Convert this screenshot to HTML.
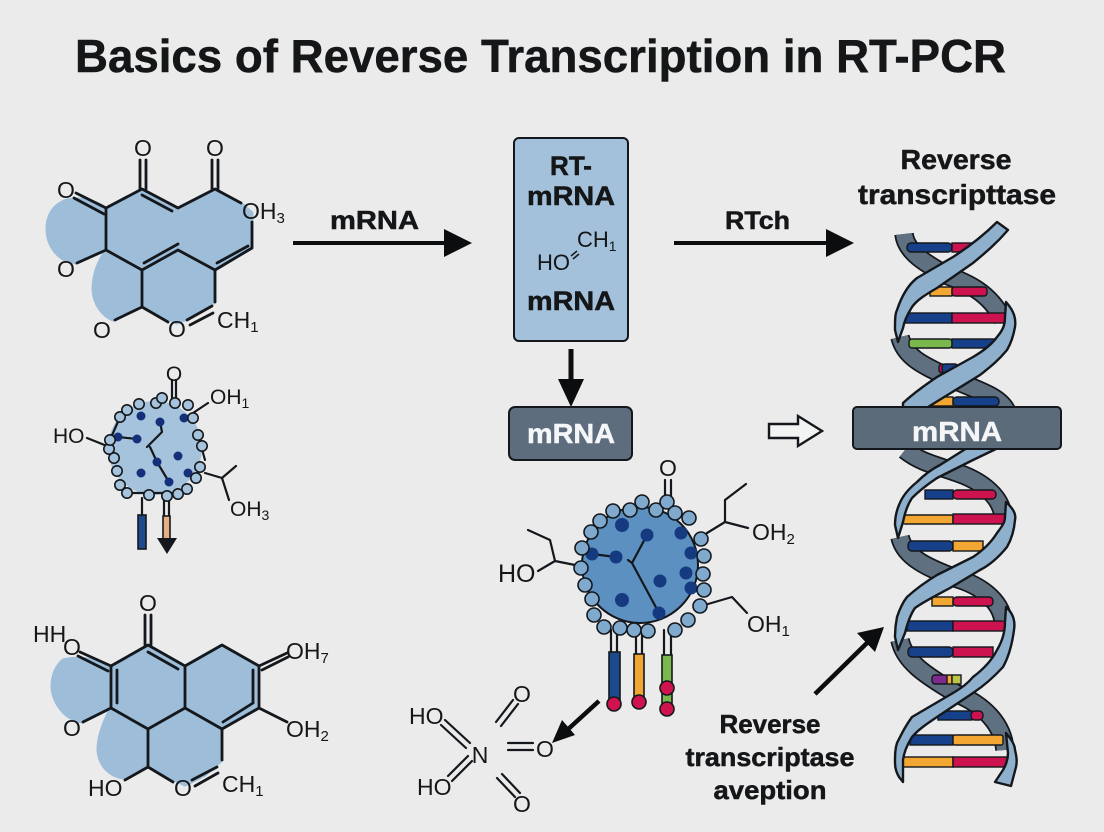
<!DOCTYPE html>
<html><head><meta charset="utf-8"><style>
html,body{margin:0;padding:0;background:#ebebec}
svg{display:block}
text{font-family:"Liberation Sans",sans-serif;fill:#141618}
.b{font-weight:bold;stroke:#141618;stroke-width:.5}
.l{stroke:#14181c;stroke-width:2.8;fill:none;stroke-linecap:round;stroke-linejoin:round}
.t{stroke:#14181c;stroke-width:2.2;fill:none;stroke-linecap:round;stroke-linejoin:round}
.m{font-size:23px}.s{font-size:21px}
.c{text-anchor:middle}
.d{stroke:#14181c;stroke-width:1.6}
.r{stroke:#14181c;stroke-width:1.4}
.ol{fill:none;stroke:#14181c;stroke-width:19.5}
.dk{fill:none;stroke:#5f7080;stroke-width:16}
.lt{fill:#8fb0cc;stroke:#14181c;stroke-width:2.4;stroke-linejoin:round}
</style></head><body>
<svg width="1104" height="832" viewBox="0 0 1104 832" xmlns="http://www.w3.org/2000/svg">
<rect width="1104" height="832" fill="#ebebec"/>
<text class="b" x="75" y="72" font-size="46" textLength="931" lengthAdjust="spacingAndGlyphs">Basics of Reverse Transcription in RT-PCR</text>

<!-- molecule 1 -->
<g fill="#9dbdd8" stroke="#9dbdd8" stroke-width="3" stroke-linejoin="round">
<path d="M106,208L142,189L178,208L215,189L243,205L252,213L252,248L215,270L215,302L190,318L177,323L142,307L142,270L106,250Z"/>
<path d="M106,208C90,198 80,198 67,200C52,205 47,217 47,229C47,245 58,262 77,263L106,250Z"/>
<path d="M105,252C96,265 93,278 93,290C94,305 103,316 113,320L142,307L142,270Z"/>
</g>
<g class="l">
<path d="M106,208L142,189L178,208L215,189L241,203M252,222V248L215,270L178,250L142,270L106,250V208"/>
<path d="M142,195L172,211M178,244L144,263M217,263L248,246"/>
<path d="M142,270V307M142,307L115,320M142,307L168,322M215,270V302"/>
<path d="M187,320L212,306M190,325L213,313M106,208L76,193M104,214L74,198M106,250L77,263"/>
<path d="M140,160V189M146,160V189M212,160V189M218,160V189"/>
</g>
<text class="m c" x="143" y="156">O</text><text class="m c" x="215" y="156">O</text>
<text class="m c" x="66" y="198">O</text><text class="m c" x="66" y="277">O</text>
<text class="m c" x="102" y="338">O</text><text class="m c" x="177" y="337">O</text>
<text class="m" x="242" y="219">OH<tspan font-size="15" dy="4">3</tspan></text>
<text class="m" x="217" y="328">CH<tspan font-size="15" dy="4">1</tspan></text>

<!-- molecule 2 -->
<g class="t">
<path d="M172,380V400M176,380V400M193,413L208,403M87,438L107,446M205,473L222,478L236,466M222,478L229,500M142,498V515M164,496V516M169,496V516"/>
</g>
<circle cx="155" cy="448" r="47" fill="#a5c3dc"/>
<g class="t" stroke-width="1.6"><path d="M118,437L137,439M160,422L162,432L147,447M150,447L157,462L169,482M120,417L110,440M127,493H187M198,435L205,460"/></g>
<g fill="#14307a">
<circle cx="141" cy="416" r="4.5"/><circle cx="160" cy="422" r="4.5"/><circle cx="184" cy="418" r="4.5"/><circle cx="178" cy="456" r="4.5"/><circle cx="188" cy="473" r="4.5"/><circle cx="169" cy="482" r="4.5"/><circle cx="157" cy="462" r="4.5"/><circle cx="141" cy="473" r="4.5"/><circle cx="137" cy="439" r="4.5"/><circle cx="118" cy="437" r="4.5"/>
</g>
<g fill="#a5c3dc" class="d">
<circle cx="139" cy="404" r="5.2"/><circle cx="156" cy="403" r="5.2"/><circle cx="162" cy="398" r="5.2"/><circle cx="175" cy="403" r="5.2"/><circle cx="188" cy="405" r="5.2"/><circle cx="193" cy="418" r="5.2"/><circle cx="198" cy="435" r="5.2"/><circle cx="202" cy="446" r="5.2"/><circle cx="200" cy="467" r="5.2"/><circle cx="196" cy="478" r="5.2"/><circle cx="187" cy="489" r="5.2"/><circle cx="178" cy="494" r="5.2"/><circle cx="167" cy="496" r="5.2"/><circle cx="149" cy="495" r="5.2"/><circle cx="127" cy="493" r="5.2"/><circle cx="120" cy="485" r="5.2"/><circle cx="117" cy="471" r="5.2"/><circle cx="114" cy="458" r="5.2"/><circle cx="109" cy="449" r="5.2"/><circle cx="110" cy="440" r="5.2"/><circle cx="120" cy="417" r="5.2"/><circle cx="127" cy="410" r="5.2"/>
</g>
<rect x="138" y="515" width="8" height="34" fill="#1c4a8c" class="d"/>
<rect x="163" y="516" width="7" height="23" fill="#e8ad80" class="d"/>
<path d="M157,538H177L167,554Z" fill="#14181c"/>
<text class="s c" x="174" y="381">O</text>
<text class="s" x="210" y="404">OH<tspan font-size="14" dy="4">1</tspan></text>
<text class="s" x="53" y="443">HO</text>
<text class="s" x="230" y="516">OH<tspan font-size="14" dy="4">3</tspan></text>

<!-- molecule 3 -->
<g fill="#9dbdd8" stroke="#9dbdd8" stroke-width="3" stroke-linejoin="round">
<path d="M111,666L148,645L185,666L222,645L259,666L259,708L222,729L222,760L205,775L185,785L148,767L148,729L111,708Z"/>
<path d="M111,666C90,657 75,657 63,660C54,668 52,678 52,687C53,703 65,720 83,722L111,708Z"/>
<path d="M110,710C102,725 98,738 98,750C99,766 110,776 123,778L148,767V729Z"/>
</g>
<g class="l">
<path d="M111,666L148,645L185,666L222,645L259,666V708L222,729L185,708L148,729L111,708V666"/>
<path d="M148,652L178,669M185,666V708M253,670V703M253,703L223,722M117,670V703"/>
<path d="M148,729V767M148,767L125,780M148,767L173,782M222,729V760"/>
<path d="M192,780L217,767M195,786L218,773M111,666L80,652M108,671L78,656M111,708L83,722"/>
<path d="M259,666L287,653M262,670L288,657M259,708L287,722"/>
<path d="M145,615V645M151,615V645"/>
</g>
<text class="m c" x="148" y="611">O</text>
<text class="m" x="33" y="642">HH</text>
<text class="m c" x="72" y="655">O</text>
<text class="m c" x="72" y="736">O</text>
<text class="m" x="88" y="796">HO</text>
<text class="m c" x="183" y="796">O</text>
<text class="m" x="286" y="659">OH<tspan font-size="15" dy="4">7</tspan></text>
<text class="m" x="286" y="737">OH<tspan font-size="15" dy="4">2</tspan></text>
<text class="m" x="222" y="792">CH<tspan font-size="15" dy="4">1</tspan></text>

<!-- arrows top -->
<path d="M293,243H446" stroke="#0b0d0f" stroke-width="4"/><path d="M444,229L472,243L444,257Z" fill="#0b0d0f"/>
<path d="M674,243H828" stroke="#0b0d0f" stroke-width="4"/><path d="M826,229L854,243L826,257Z" fill="#0b0d0f"/>
<text class="b" x="330" y="229" font-size="26" textLength="89" lengthAdjust="spacingAndGlyphs">mRNA</text>
<text class="b" x="725" y="229" font-size="25" textLength="65" lengthAdjust="spacingAndGlyphs">RTch</text>
<text class="b c" x="956" y="169" font-size="28" textLength="111" lengthAdjust="spacingAndGlyphs">Reverse</text>
<text class="b c" x="957" y="204" font-size="28" textLength="198" lengthAdjust="spacingAndGlyphs">transcripttase</text>

<!-- RT box -->
<rect x="514" y="138" width="114" height="203" rx="5" fill="#a3c1da" stroke="#14181c" stroke-width="2"/>
<text class="b c" x="571" y="175" font-size="27" textLength="42" lengthAdjust="spacingAndGlyphs">RT-</text>
<text class="b c" x="571" y="205" font-size="27" textLength="88" lengthAdjust="spacingAndGlyphs">mRNA</text>
<text class="b c" x="571" y="310" font-size="27" textLength="88" lengthAdjust="spacingAndGlyphs">mRNA</text>
<text x="537" y="270" font-size="22">HO</text>
<text x="577" y="247" font-size="22">CH<tspan font-size="14" dy="4">1</tspan></text>
<path d="M571,256L577,251M573,259L579,254" stroke="#14181c" stroke-width="1.5"/>
<path d="M571,349V382" stroke="#0b0d0f" stroke-width="5"/><path d="M558,379H584L571,407Z" fill="#0b0d0f"/>
<rect x="509" y="407" width="123" height="53" rx="6" fill="#5d6d7d" stroke="#14181c" stroke-width="2"/>
<text class="b c" x="571" y="443" font-size="28" textLength="88" lengthAdjust="spacingAndGlyphs" style="fill:#f4f6f7;stroke:#f4f6f7">mRNA</text>

<path d="M769,424H798V416L822,431L798,446V438H769Z" fill="#f2f3f3" stroke="#14181c" stroke-width="2.4" stroke-linejoin="miter"/>

<!-- centre molecule -->
<g class="t">
<path d="M665,480V500M671,480V500M707,533L725,522L725,500L746,484M725,522L748,528M708,604L732,597L747,613"/>
<path d="M575,565L555,561L538,571M555,561L550,540L528,530"/>
<path d="M611,630V652M617,630V652M636,630V654M642,630V654M664,630V655M671,630V655"/>
</g>
<circle cx="640" cy="565" r="58" fill="#5b90c0" stroke="#14181c" stroke-width="2"/>
<g class="t"><path d="M592,554L616,557M647,535L632,563L659,613M632,563L628,560"/></g>
<g fill="#153a80">
<circle cx="622" cy="525" r="7"/><circle cx="647" cy="535" r="6.5"/><circle cx="681" cy="533" r="6.5"/><circle cx="691" cy="553" r="6.5"/><circle cx="686" cy="573" r="6.5"/><circle cx="691" cy="588" r="6.5"/><circle cx="660" cy="581" r="6.5"/><circle cx="659" cy="613" r="6.5"/><circle cx="622" cy="600" r="7"/><circle cx="616" cy="557" r="6.5"/><circle cx="592" cy="554" r="6.5"/>
</g>
<g fill="#7fa9cd" class="d">
<circle cx="642" cy="502" r="7"/><circle cx="656" cy="510" r="7"/><circle cx="667" cy="502" r="7"/><circle cx="675" cy="513" r="7"/><circle cx="689" cy="518" r="7"/><circle cx="701" cy="539" r="7"/><circle cx="704" cy="556" r="7"/><circle cx="703" cy="574" r="7"/><circle cx="704" cy="590" r="7"/><circle cx="700" cy="606" r="7"/><circle cx="688" cy="620" r="7"/><circle cx="675" cy="630" r="7"/><circle cx="648" cy="631" r="7"/><circle cx="634" cy="630" r="7"/><circle cx="620" cy="628" r="7"/><circle cx="604" cy="627" r="7"/><circle cx="594" cy="615" r="7"/><circle cx="592" cy="599" r="7"/><circle cx="585" cy="585" r="7"/><circle cx="581" cy="568" r="7"/><circle cx="582" cy="548" r="7"/><circle cx="591" cy="532" r="7"/><circle cx="600" cy="521" r="7"/><circle cx="613" cy="511" r="7"/><circle cx="630" cy="510" r="7"/>
</g>
<g class="d" stroke-width="2">
<rect x="609" y="652" width="11" height="50" fill="#1c4a8c"/>
<rect x="634" y="654" width="10" height="48" fill="#f2a733"/>
<rect x="662" y="655" width="10" height="52" fill="#7ab84e"/>
<circle cx="614" cy="704" r="7" fill="#d0134f"/><circle cx="639" cy="702" r="7" fill="#d0134f"/>
<circle cx="667" cy="688" r="7" fill="#d0134f"/><circle cx="667" cy="709" r="7" fill="#d0134f"/>
</g>
<text class="m c" x="668" y="476">O</text>
<text class="m" x="752" y="540">OH<tspan font-size="15" dy="4">2</tspan></text>
<text class="m" x="747" y="632">OH<tspan font-size="15" dy="4">1</tspan></text>
<text x="498" y="582" font-size="25">HO</text>

<!-- N group -->
<g class="t">
<path d="M508,743H533M508,750H533M496,722L513,700M501,726L518,704M497,778L515,797M502,774L520,793"/>
<path d="M445,720L470,743M441,725L466,748M452,781L472,761M448,776L468,756"/>
</g>
<text class="m" x="409" y="724">HO</text><text class="m" x="417" y="795">HO</text>
<text class="m c" x="480" y="763">N</text>
<text class="m c" x="522" y="702">O</text><text class="m c" x="522" y="812">O</text><text class="m c" x="545" y="757">O</text>
<path d="M599,701L565,732" stroke="#0b0d0f" stroke-width="4.5"/><path d="M552,743L562,720L575,735Z" fill="#0b0d0f"/>

<!-- lower arrow -->
<path d="M815,694L868,642" stroke="#0b0d0f" stroke-width="4.5"/><path d="M884,627L875,652L857,633Z" fill="#0b0d0f"/>
<text class="b c" x="770" y="733" font-size="26" textLength="101" lengthAdjust="spacingAndGlyphs">Reverse</text>
<text class="b c" x="770" y="766" font-size="26" textLength="169" lengthAdjust="spacingAndGlyphs">transcriptase</text>
<text class="b c" x="770" y="799" font-size="26" textLength="113" lengthAdjust="spacingAndGlyphs">aveption</text>

<!-- helix dark strands -->
<g>
<path class="ol" d="M904,234C906,252 925,263 946,275C965,282 990,292 1003,320"/><path class="dk" d="M904,234C906,252 925,263 946,275C965,282 990,292 1003,320"/>
<path class="ol" d="M900,337C905,358 925,366 950,378C975,390 1000,395 1007,412"/><path class="dk" d="M900,337C905,358 925,366 950,378C975,390 1000,395 1007,412"/>
<path class="ol" d="M905,450C920,462 935,465 955,472C980,480 1000,495 1003,515"/><path class="dk" d="M905,450C920,462 935,465 955,472C980,480 1000,495 1003,515"/>
<path class="ol" d="M900,537C905,560 935,570 955,578C980,585 1000,600 1003,620"/><path class="dk" d="M900,537C905,560 935,570 955,578C980,585 1000,600 1003,620"/>
<path class="ol" d="M900,640C905,665 935,680 955,693C985,705 1003,725 1005,750"/><path class="dk" d="M900,640C905,665 935,680 955,693C985,705 1003,725 1005,750"/>
</g>

<!-- rungs -->
<g class="r">
<rect x="907" y="243" width="45" height="9" rx="4" fill="#16408a"/><rect x="952" y="243" width="22" height="9" fill="#cc1350"/>
<rect x="930" y="287" width="22" height="9" fill="#f2a733"/><rect x="952" y="287" width="35" height="9" rx="3" fill="#cc1350"/>
<rect x="903" y="313" width="49" height="10" fill="#16408a"/><rect x="952" y="313" width="54" height="10" fill="#cc1350"/>
<rect x="909" y="339" width="43" height="9" rx="3" fill="#7ab84e"/><rect x="952" y="339" width="42" height="9" fill="#16408a"/>
<rect x="939" y="364" width="6" height="9" rx="3" fill="#cc1350"/><rect x="942" y="364" width="16" height="9" rx="3" fill="#16408a"/>
<rect x="932" y="397" width="21" height="9" fill="#f2a733"/><rect x="953" y="397" width="46" height="9" rx="4" fill="#16408a"/>
<rect x="925" y="490" width="28" height="9" fill="#16408a"/><rect x="953" y="490" width="43" height="9" rx="4" fill="#cc1350"/>
<rect x="903" y="515" width="50" height="9" rx="2" fill="#f2a733"/><rect x="953" y="514" width="52" height="10" fill="#cc1350"/>
<rect x="908" y="541" width="45" height="10" rx="4" fill="#16408a"/><rect x="953" y="541" width="30" height="10" fill="#f2a733"/>
<rect x="932" y="597" width="21" height="9" fill="#f2a733"/><rect x="953" y="597" width="40" height="9" rx="4" fill="#cc1350"/>
<rect x="907" y="621" width="46" height="10" fill="#16408a"/><rect x="953" y="621" width="53" height="10" fill="#cc1350"/>
<rect x="908" y="647" width="45" height="10" rx="4" fill="#16408a"/><rect x="953" y="647" width="40" height="10" fill="#cc1350"/>
<rect x="932" y="675" width="16" height="9" rx="3" fill="#7d2a8c"/><rect x="947" y="675" width="5" height="9" fill="#f2a733"/><rect x="952" y="675" width="9" height="9" fill="#b9c64a"/>
<rect x="938" y="711" width="34" height="9" fill="#16408a"/><rect x="971" y="711" width="12" height="9" rx="4" fill="#cc1350"/>
<rect x="910" y="735" width="43" height="10" fill="#16408a"/><rect x="953" y="735" width="50" height="10" rx="2" fill="#f2a733"/>
<rect x="901" y="757" width="52" height="10" fill="#f2a733"/><rect x="953" y="757" width="54" height="10" fill="#cc1350"/>
</g>

<!-- helix light strands -->
<path class="lt" d="M997,222L1008,230C995,245 985,253 973,263L937,288C925,295 917,300 912,307C907,315 904,322 903,328L898,342L895,330C895,320 895,314 897,310C902,295 908,285 917,278L953,257C970,246 985,234 997,222Z"/>
<path class="lt" d="M1006,302C1015,312 1016,320 1015,327C1013,338 1010,345 1007,350C997,362 990,367 980,375L928,407V420H903V403C915,392 925,385 937,377L973,357C985,350 992,344 997,337C1003,330 1005,325 1005,317Z"/>
<path class="lt" d="M967,448L940,465C930,470 923,476 917,482C907,490 902,497 899,505C896,512 895,518 895,525L898,538L903,522C905,512 908,504 912,498C920,490 928,484 937,478L973,460L998,448Z"/>
<path class="lt" d="M1006,502C1015,510 1016,516 1015,520C1014,532 1011,540 1007,547C998,558 990,565 980,570L950,588C935,596 923,602 915,608C910,615 907,625 905,633L898,650L895,637C895,628 896,622 897,617C900,608 903,602 907,597C917,588 927,581 937,575L973,557C985,549 992,541 997,533C1003,525 1005,522 1005,517Z"/>
<path class="lt" d="M1006,607C1015,615 1015,624 1014,630C1012,645 1008,658 1003,667C993,678 985,685 973,693L937,717C925,725 918,730 912,737C907,745 904,752 903,760V782L899,777C896,772 895,768 895,763C895,755 895,749 897,743C902,733 906,725 912,717L953,693C963,687 968,683 973,677C985,668 992,660 997,650C1003,640 1005,630 1005,622Z"/>
<path class="lt" d="M1006,733C1012,740 1015,746 1015,750C1017,758 1017,762 1016,767L1011,786L995,782L1003,770C1006,765 1008,759 1008,753Z"/>

<rect x="853" y="407" width="208" height="42" rx="4" fill="#5b6b7a" stroke="#14181c" stroke-width="2"/>
<text class="b c" x="957" y="441" font-size="28" textLength="90" lengthAdjust="spacingAndGlyphs" style="fill:#f4f6f7;stroke:#f4f6f7">mRNA</text>
</svg>
</body></html>
